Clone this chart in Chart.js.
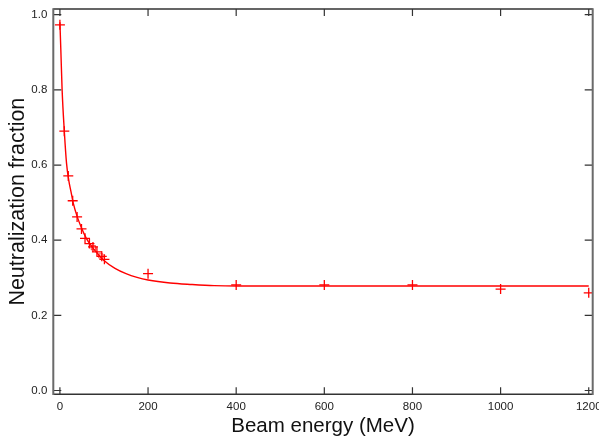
<!DOCTYPE html>
<html>
<head>
<meta charset="utf-8">
<script src="https://cdn.jsdelivr.net/npm/chart.js@4/dist/chart.umd.min.js"></script>
<style>
  html, body { margin: 0; padding: 0; background: #fff; }
  #wrap { width: 599px; height: 439px; }
</style>
</head>
<body>
<div id="wrap"><canvas id="c" width="599" height="439"></canvas></div>
<script>
// Measured points (crosses)
const energyPts = [0, 10, 19, 29, 39, 49, 57, 67, 75, 84, 95, 101, 200, 400, 600, 800, 1000, 1200];
const fracPts   = [0.973, 0.69, 0.571, 0.505, 0.462, 0.43, 0.405, 0.391, 0.382, 0.369, 0.357, 0.349, 0.311, 0.281, 0.281, 0.281, 0.27, 0.26];
// Open-square points
const energySq = [76, 93];
const fracSq   = [0.38, 0.358];
// Fitted curve
const energyFit = [0, 2, 5, 10, 15, 20, 25, 30, 40, 50, 60, 70, 80, 100, 125, 150, 175, 200, 250, 300, 350, 400, 600, 800, 1000, 1200];
const fracFit   = [0.98, 0.91, 0.80, 0.69, 0.605, 0.56, 0.53, 0.50, 0.46, 0.43, 0.405, 0.387, 0.372, 0.346, 0.325, 0.311, 0.301, 0.294, 0.286, 0.282, 0.279, 0.278, 0.278, 0.278, 0.278, 0.278];
// Axis ticks
const xTicks = [0, 200, 400, 600, 800, 1000, 1200];
const yTicks = [0.0, 0.2, 0.4, 0.6, 0.8, 1.0];

const toXY = (xs, ys) => xs.map((x, i) => ({x: x, y: ys[i]}));

const frame = {
  id: 'frame',
  afterDatasetsDraw(chart) {
    const {ctx, chartArea: a, scales: {x, y}} = chart;
    ctx.save();
    ctx.strokeStyle = '#333';
    ctx.lineWidth = 1.2;
    ctx.beginPath();
    xTicks.forEach(v => {
      const px = x.getPixelForValue(v);
      ctx.moveTo(px, a.bottom); ctx.lineTo(px, a.bottom - 7);
      ctx.moveTo(px, a.top); ctx.lineTo(px, a.top + 7);
    });
    yTicks.forEach(v => {
      const py = y.getPixelForValue(v);
      ctx.moveTo(a.left, py); ctx.lineTo(a.left + 8, py);
      ctx.moveTo(a.right, py); ctx.lineTo(a.right - 8, py);
    });
    ctx.stroke();
    ctx.strokeStyle = '#333';
    ctx.lineWidth = 1.5;
    ctx.beginPath();
    ctx.moveTo(a.left, a.top); ctx.lineTo(a.right, a.top);
    ctx.moveTo(a.left, a.bottom); ctx.lineTo(a.right, a.bottom);
    ctx.stroke();
    ctx.strokeStyle = '#6a6a6a';
    ctx.lineWidth = 2;
    ctx.beginPath();
    ctx.moveTo(a.left, a.top - 0.75); ctx.lineTo(a.left, a.bottom + 0.75);
    ctx.moveTo(a.right, a.top - 0.75); ctx.lineTo(a.right, a.bottom + 0.75);
    ctx.stroke();
    ctx.restore();
  }
};

new Chart(document.getElementById('c'), {
  type: 'scatter',
  data: {
    datasets: [
      {
        type: 'line',
        data: toXY(energyFit, fracFit),
        borderColor: '#ff0000',
        borderWidth: 1.4,
        pointRadius: 0,
        fill: false,
        tension: 0,
        cubicInterpolationMode: 'monotone'
      },
      {
        data: toXY(energyPts, fracPts),
        pointStyle: 'cross',
        pointRadius: 5,
        pointBorderWidth: 1.3,
        borderColor: '#ff0000',
        backgroundColor: '#ff0000'
      },
      {
        data: toXY(energySq, fracSq),
        pointStyle: 'rect',
        pointRadius: 3,
        pointBorderWidth: 1,
        borderColor: 'rgba(255,0,0,0.75)',
        backgroundColor: 'rgba(0,0,0,0)'
      }
    ]
  },
  options: {
    responsive: false,
    animation: false,
    devicePixelRatio: 1,
    layout: { padding: { top: 9, right: 5.7, left: 0, bottom: 0 } },
    plugins: { legend: { display: false }, tooltip: { enabled: false } },
    scales: {
      x: {
        type: 'linear',
        min: -15,
        max: 1209,
        afterBuildTicks: s => { s.ticks = xTicks.map(v => ({value: v})); },
        afterFit: s => { s.height = 439 - 394.3; s.paddingLeft = 0; s.paddingRight = 0; },
        grid: { display: false, drawTicks: false },
        border: { display: false },
        ticks: {
          padding: 6,
          color: '#222',
          font: { family: 'Liberation Sans, Arial, sans-serif', size: 11.5 },
          maxRotation: 0,
          callback: v => String(v)
        },
        title: {
          display: true,
          text: 'Beam energy (MeV)',
          color: '#111',
          font: { family: 'Liberation Sans, Arial, sans-serif', size: 20.5 },
          padding: { top: 0, bottom: 0 }
        }
      },
      y: {
        type: 'linear',
        min: -0.0101,
        max: 1.0152,
        afterBuildTicks: s => { s.ticks = yTicks.map(v => ({value: v})); },
        afterFit: s => { s.width = 53.3; s.paddingTop = 0; s.paddingBottom = 0; },
        grid: { display: false, drawTicks: false },
        border: { display: false },
        ticks: {
          padding: 6,
          color: '#222',
          font: { family: 'Liberation Sans, Arial, sans-serif', size: 11.5 },
          callback: v => Number(v).toFixed(1)
        },
        title: {
          display: true,
          text: 'Neutralization fraction',
          color: '#111',
          font: { family: 'Liberation Sans, Arial, sans-serif', size: 21.5 },
          padding: { top: 5, bottom: 0 }
        }
      }
    }
  },
  plugins: [frame]
});
</script>
</body>
</html>
